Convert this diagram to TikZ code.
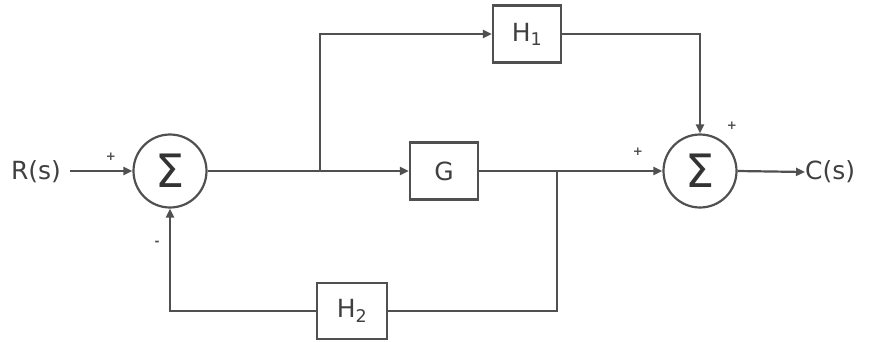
\documentclass[tikz,border=0pt]{standalone}
\usepackage{fontspec}
\setmainfont{DejaVu Sans}
\usetikzlibrary{arrows.meta}
\definecolor{ln}{HTML}{505050}
\begin{document}
\begin{tikzpicture}[x=1pt,y=-1pt,
  wire/.style={draw=ln,line width=2.2pt},
  arr/.style={wire,-{Triangle[length=9pt,width=8pt]}},
  sumnode/.style={circle,draw=ln,line width=2.2pt,minimum size=73pt,inner sep=0pt,font=\fontsize{46}{46}\selectfont,text=black!80},
  blk/.style={rectangle,draw=ln,line width=2.2pt,minimum width=68pt,minimum height=57pt,inner sep=0pt,font=\fontsize{25}{25}\selectfont,text=black!75},
  lbl/.style={font=\fontsize{25}{25}\selectfont,text=black!75,inner sep=0pt},
  sgn/.style={font=\fontsize{12}{12}\selectfont\bfseries,text=black!70,inner sep=0pt}]
\useasboundingbox (0,0) rectangle (879,341);
\node[lbl] (R) at (36,172) {R(s)};
\node[lbl,anchor=west] (C) at (805,172) {C(s)};
\node[sumnode] (sL) at (170,171) {Σ};
\node[sumnode] (sR) at (700,171) {Σ};
\node[blk] (G) at (444,171) {G};
\node[blk] (H1) at (527,34) {H\textsubscript{1}};
\node[blk,minimum width=70pt,minimum height=56pt] (H2) at (352,311) {H\textsubscript{2}};
\coordinate (b1) at (320,171);
\coordinate (b2) at (557,171);
\coordinate (r0) at (70,171);
\draw[arr] (r0) -- (sL.west);
\draw[arr] (sL.east) -- (G.west);
\draw[arr] (G.east) -- (sR.west);
\draw[arr] (sR.east) -- (C.west);
\draw[arr] (b1) |- (H1.west);
\draw[arr] (H1.east) -| (sR.north);
\draw[wire] (b2) |- (H2.east);
\draw[arr] (H2.west) -| (sL.south);
\node[sgn] (p1) at (111,157) {+};
\node[sgn] (m1) at (157,243) {-};
\node[sgn] (p2) at (638,152) {+};
\node[sgn] (p3) at (732,126) {+};
\end{tikzpicture}
\end{document}
